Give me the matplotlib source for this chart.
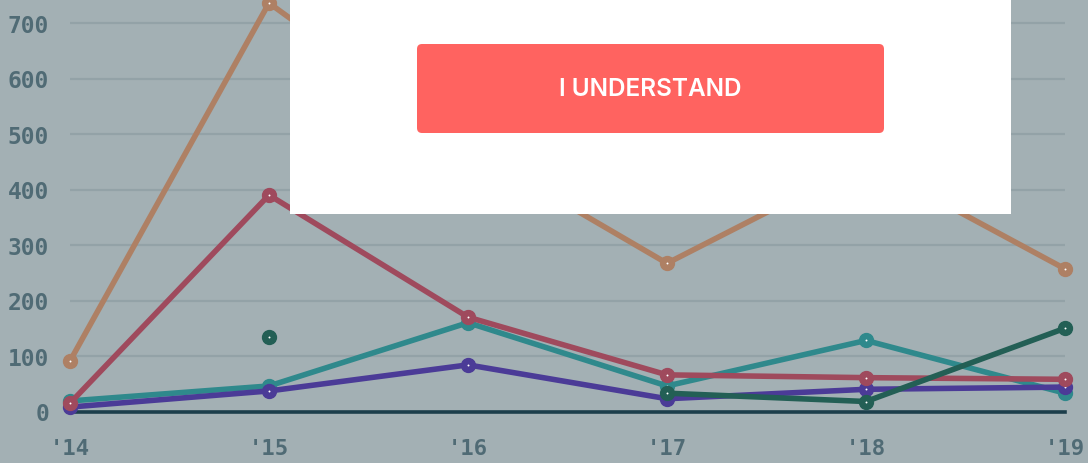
import numpy as np
import matplotlib
matplotlib.use("Agg")
import matplotlib.pyplot as plt
from matplotlib.patches import Rectangle, FancyBboxPatch

years = ["'14", "'15", "'16", "'17", "'18", "'19"]
tan_vals = [91, 736, 476, 267, 450, 257]
crimson_vals = [15, 390, 170, 66, 61, 58]
teal_vals = [19, 46, 160, 46, 128, 33]
purple_vals = [8, 37, 84, 23, 40, 44]
green_vals = [np.nan, 134, np.nan, 33, 18, 150]
yticks = [0, 100, 200, 300, 400, 500, 600, 700]
button_label = "I UNDERSTAND"

series = [
    (tan_vals, "#ae8064", 2),
    (teal_vals, "#2f898c", 3),
    (purple_vals, "#4b3b97", 4),
    (crimson_vals, "#9f4a5d", 5),
    (green_vals, "#235f55", 6),
]

W, H = 1088, 464
fig = plt.figure(figsize=(W / 100, H / 100), dpi=100)
bg = "#a3b0b4"
fig.patch.set_facecolor(bg)

ax_left, ax_right = 70 / W, 1065 / W
ax_bottom = (H - 412.5) / H
ax = fig.add_axes([ax_left, ax_bottom, ax_right - ax_left, 1 - ax_bottom])
ax.set_facecolor(bg)
x = np.arange(len(years))
ax.set_xlim(0, len(years) - 1)
ax.set_ylim(0, 412.5 / 55.5 * 100)

for s in ax.spines.values():
    s.set_visible(False)

for t in yticks[1:]:
    ax.axhline(t, color="#93a2a7", lw=1.6, zorder=1)
ax.axhline(0, color="#1c3e4b", lw=2.6, zorder=1.5, clip_on=False)

for vals, col, z in series:
    v = np.array(vals, dtype=float)
    ax.plot(x, v, color=col, lw=4.0, zorder=z, solid_capstyle="round",
            solid_joinstyle="round", clip_on=False)
    ax.plot(x, v, "o", color=col, ms=10, zorder=z, clip_on=False)
    ax.plot(x, v, "o", color="white", ms=1.4, mew=0, zorder=z + 0.1, clip_on=False)

tick_col = "#506b75"
ax.set_yticks(yticks)
ax.set_yticklabels([str(t) for t in yticks])
ax.set_xticks(x)
ax.set_xticklabels(years)
ax.tick_params(axis="y", length=0, pad=15, labelsize=16.5, labelcolor=tick_col)
ax.tick_params(axis="x", length=0, pad=19, labelsize=16, labelcolor=tick_col)
for lab in ax.get_xticklabels() + ax.get_yticklabels():
    lab.set_fontfamily("DejaVu Sans Mono")
    lab.set_fontweight("bold")

# overlay box
box = Rectangle((290 / W, (H - 215) / H), 721 / W, 215 / H, transform=fig.transFigure,
                facecolor="white", edgecolor="none", zorder=10)
fig.add_artist(box)
bx0, bx1, by0, by1 = 417, 884, 45, 134
btn = FancyBboxPatch((bx0, H - by1), bx1 - bx0, by1 - by0,
                     boxstyle="round,pad=0,rounding_size=5",
                     transform=None, facecolor="#ff6360", edgecolor="none", zorder=11)
fig.add_artist(btn)
fig.text((bx0 + bx1) / 2 / W, (H - 90) / H, button_label,
         ha="center", va="center", color="white", fontsize=17.5, fontweight="semibold",
         fontfamily="Inter", zorder=12)

fig.savefig("out.png", dpi=100, facecolor=fig.get_facecolor())
